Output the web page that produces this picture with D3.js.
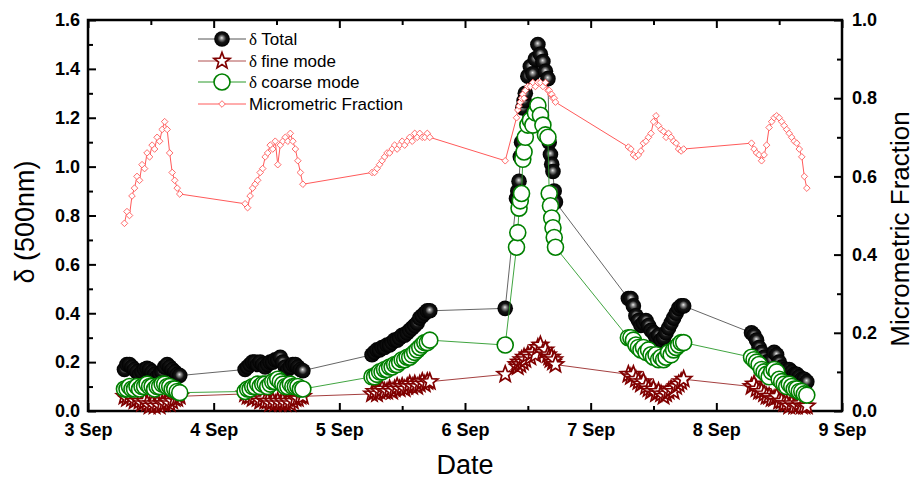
<!DOCTYPE html>
<html>
<head>
<meta charset="utf-8">
<script src="https://cdn.jsdelivr.net/npm/d3@7"></script>
<style>
  body { margin: 0; background: #fff; }
  svg { display: block; }
</style>
</head>
<body>
<svg width="917" height="481"></svg>
<script>
// time of each sample, as decimal day of September
const times = [
  3.29,3.31,3.33,3.35,3.37,3.39,3.41,3.43,3.45,3.47,3.49,3.51,3.53,3.55,3.57,3.59,3.61,3.63,3.65,3.67,3.69,3.71,3.73,
  4.25,4.27,4.29,4.31,4.33,4.35,4.37,4.39,4.41,4.43,4.45,4.47,4.49,4.51,4.53,4.55,4.57,4.59,4.61,4.63,4.65,4.67,4.69,4.71,
  5.26,5.28,5.30,5.32,5.34,5.36,5.38,5.40,5.42,5.44,5.46,5.48,5.50,5.52,5.54,5.56,5.58,5.60,5.62,5.64,5.66,5.68,5.70,5.72,
  6.32,6.41,6.42,6.43,6.44,6.45,6.46,6.47,6.48,6.50,6.52,6.54,6.56,6.58,6.60,6.62,6.64,6.66,6.67,6.68,6.69,6.70,6.71,6.72,
  7.30,7.32,7.34,7.36,7.38,7.40,7.42,7.44,7.46,7.48,7.50,7.52,7.54,7.56,7.58,7.60,7.62,7.64,7.66,7.68,7.70,7.72,7.74,
  8.28,8.30,8.32,8.34,8.36,8.38,8.40,8.42,8.44,8.46,8.48,8.50,8.52,8.54,8.56,8.58,8.60,8.62,8.64,8.66,8.68,8.70,8.72
];

const deltaTotal = [
  0.17,0.19,0.19,0.18,0.17,0.16,0.15,0.16,0.17,0.175,0.17,0.16,0.15,0.14,0.15,0.16,0.18,0.19,0.18,0.17,0.16,0.15,0.145,
  0.17,0.18,0.19,0.20,0.20,0.19,0.20,0.19,0.18,0.19,0.20,0.20,0.21,0.21,0.22,0.20,0.18,0.17,0.18,0.19,0.19,0.18,0.17,0.165,
  0.23,0.24,0.25,0.25,0.26,0.26,0.27,0.27,0.28,0.29,0.29,0.30,0.31,0.31,0.32,0.33,0.34,0.35,0.36,0.38,0.39,0.40,0.41,0.41,
  0.42,0.87,0.90,0.94,1.04,1.10,1.24,1.27,1.30,1.37,1.41,1.38,1.44,1.50,1.46,1.43,1.39,1.36,1.10,1.05,1.01,0.98,0.90,0.855,
  0.46,0.46,0.43,0.39,0.37,0.35,0.36,0.37,0.35,0.33,0.32,0.30,0.31,0.29,0.30,0.32,0.34,0.36,0.38,0.40,0.42,0.43,0.43,
  0.32,0.31,0.29,0.26,0.24,0.22,0.20,0.19,0.21,0.24,0.23,0.20,0.18,0.17,0.16,0.17,0.16,0.15,0.15,0.14,0.13,0.13,0.12
];

const deltaFine = [
  0.06,0.05,0.06,0.05,0.04,0.05,0.04,0.03,0.04,0.03,0.02,0.03,0.02,0.03,0.02,0.03,0.03,0.04,0.03,0.04,0.05,0.05,0.06,
  0.07,0.06,0.06,0.05,0.06,0.05,0.04,0.05,0.04,0.04,0.03,0.04,0.03,0.04,0.03,0.04,0.03,0.04,0.03,0.04,0.05,0.05,0.06,0.06,
  0.07,0.08,0.07,0.08,0.09,0.08,0.08,0.09,0.08,0.09,0.10,0.09,0.10,0.09,0.10,0.11,0.10,0.11,0.10,0.11,0.12,0.11,0.12,0.12,
  0.15,0.19,0.18,0.20,0.19,0.21,0.20,0.22,0.21,0.23,0.22,0.24,0.23,0.26,0.27,0.24,0.25,0.23,0.22,0.21,0.22,0.20,0.21,0.19,
  0.15,0.14,0.15,0.13,0.12,0.11,0.12,0.10,0.09,0.08,0.09,0.07,0.08,0.07,0.06,0.07,0.08,0.09,0.08,0.10,0.11,0.12,0.13,
  0.10,0.11,0.09,0.08,0.08,0.07,0.06,0.06,0.05,0.05,0.06,0.04,0.04,0.03,0.03,0.02,0.03,0.02,0.02,0.03,0.02,0.02,0.02
];

const deltaCoarse = [
  0.09,0.09,0.10,0.09,0.09,0.10,0.09,0.10,0.10,0.11,0.10,0.10,0.09,0.10,0.10,0.11,0.11,0.10,0.10,0.09,0.09,0.08,0.075,
  0.08,0.09,0.09,0.10,0.10,0.11,0.10,0.11,0.11,0.10,0.11,0.12,0.12,0.13,0.12,0.11,0.10,0.10,0.11,0.10,0.10,0.10,0.09,0.09,
  0.14,0.14,0.15,0.16,0.16,0.17,0.17,0.18,0.18,0.19,0.19,0.20,0.21,0.21,0.22,0.22,0.23,0.24,0.25,0.26,0.27,0.28,0.28,0.29,
  0.27,0.67,0.73,0.83,0.86,0.89,1.03,1.06,1.12,1.17,1.19,1.17,1.22,1.25,1.21,1.17,1.13,1.12,0.89,0.84,0.79,0.75,0.71,0.67,
  0.30,0.30,0.29,0.27,0.26,0.25,0.26,0.24,0.25,0.23,0.22,0.23,0.21,0.22,0.21,0.22,0.24,0.23,0.25,0.26,0.27,0.28,0.28,
  0.22,0.21,0.20,0.19,0.17,0.16,0.15,0.14,0.16,0.17,0.16,0.13,0.12,0.11,0.10,0.11,0.10,0.09,0.09,0.08,0.08,0.07,0.065
];

const microFraction = [
  0.48,0.51,0.50,0.55,0.57,0.60,0.59,0.63,0.62,0.66,0.65,0.68,0.67,0.70,0.69,0.72,0.74,0.72,0.66,0.61,0.59,0.57,0.555,
  0.53,0.52,0.55,0.57,0.58,0.59,0.61,0.62,0.65,0.66,0.68,0.67,0.69,0.63,0.68,0.69,0.70,0.69,0.71,0.69,0.67,0.64,0.61,0.58,
  0.61,0.61,0.62,0.63,0.64,0.65,0.66,0.66,0.67,0.68,0.67,0.68,0.69,0.68,0.69,0.70,0.69,0.71,0.70,0.71,0.70,0.70,0.71,0.70,
  0.64,0.75,0.77,0.78,0.79,0.80,0.81,0.80,0.82,0.83,0.83,0.84,0.83,0.84,0.84,0.83,0.84,0.82,0.82,0.81,0.81,0.80,0.80,0.79,
  0.675,0.67,0.655,0.65,0.655,0.665,0.685,0.69,0.70,0.71,0.74,0.755,0.73,0.72,0.715,0.70,0.71,0.70,0.69,0.685,0.67,0.665,0.67,
  0.685,0.67,0.66,0.655,0.64,0.655,0.68,0.725,0.74,0.75,0.755,0.75,0.74,0.73,0.72,0.71,0.70,0.69,0.685,0.67,0.65,0.60,0.57
];

// ticks and labels
const dayTicks = [3, 4, 5, 6, 7, 8, 9];
const dayLabels = ["3 Sep", "4 Sep", "5 Sep", "6 Sep", "7 Sep", "8 Sep", "9 Sep"];
const halfDayTicks = [3.5, 4.5, 5.5, 6.5, 7.5, 8.5];
const leftTicks = [0, 0.2, 0.4, 0.6, 0.8, 1.0, 1.2, 1.4, 1.6];
const leftMinor = [0.1, 0.3, 0.5, 0.7, 0.9, 1.1, 1.3, 1.5];
const rightTicks = [0, 0.2, 0.4, 0.6, 0.8, 1.0];
const rightMinor = [0.1, 0.3, 0.5, 0.7, 0.9];
const legendLabels = ["Total", "fine mode", "coarse mode", "Micrometric Fraction"];

const svg = d3.select("svg");
const plotLeft = 88, plotRight = 842, plotTop = 20, plotBottom = 411;

svg.append("rect").attr("width", 917).attr("height", 481).attr("fill", "#fff");

const x = d3.scaleLinear().domain([3, 9]).range([plotLeft, plotRight]);
const y = d3.scaleLinear().domain([0, 1.6]).range([plotBottom, plotTop]);
const y2 = d3.scaleLinear().domain([0, 1.0]).range([plotBottom, plotTop]);

// sphere gradient for the total symbols
const defs = svg.append("defs");
const grad = defs.append("radialGradient").attr("id", "ball")
  .attr("cx", "50%").attr("cy", "50%").attr("r", "50%")
  .attr("fx", "48%").attr("fy", "42%");
grad.append("stop").attr("offset", "0%").attr("stop-color", "#e8e8e8");
grad.append("stop").attr("offset", "22%").attr("stop-color", "#8a8a8a");
grad.append("stop").attr("offset", "55%").attr("stop-color", "#151515");
grad.append("stop").attr("offset", "100%").attr("stop-color", "#000");

function starPath(R, r) {
  const pts = [];
  for (let i = 0; i < 10; i++) {
    const a = -Math.PI / 2 + i * Math.PI / 5;
    const rad = i % 2 === 0 ? R : r;
    pts.push([Math.cos(a) * rad, Math.sin(a) * rad]);
  }
  return "M" + pts.map(p => p[0].toFixed(2) + "," + p[1].toFixed(2)).join("L") + "Z";
}
const star = starPath(8.5, 3.6);
const diamond = "M0,-3.3L3.3,0L0,3.3L-3.3,0Z";

// axes (ticks inward)
function styleAxis(g) {
  g.select(".domain").remove();
  g.selectAll("line").attr("stroke", "#000").attr("stroke-width", 2);
  g.selectAll("text")
    .attr("fill", "#000")
    .style("font-family", "'Liberation Sans', Arial, sans-serif")
    .style("font-weight", "bold")
    .style("font-size", "18px");
}

svg.append("g").attr("transform", `translate(0,${plotBottom})`)
  .call(d3.axisBottom(x).tickValues(dayTicks).tickFormat((d, i) => dayLabels[i]).tickSize(-8).tickPadding(12))
  .call(styleAxis);
svg.append("g").attr("transform", `translate(0,${plotBottom})`)
  .call(d3.axisBottom(x).tickValues(halfDayTicks).tickFormat("").tickSize(-5))
  .call(styleAxis);
svg.append("g").attr("transform", `translate(0,${plotTop})`)
  .call(d3.axisTop(x).tickValues(dayTicks).tickFormat("").tickSize(-8))
  .call(styleAxis);
svg.append("g").attr("transform", `translate(0,${plotTop})`)
  .call(d3.axisTop(x).tickValues(halfDayTicks).tickFormat("").tickSize(-5))
  .call(styleAxis);

svg.append("g").attr("transform", `translate(${plotLeft},0)`)
  .call(d3.axisLeft(y).tickValues(leftTicks).tickFormat(d3.format(".1f")).tickSize(-8).tickPadding(8))
  .call(styleAxis);
svg.append("g").attr("transform", `translate(${plotLeft},0)`)
  .call(d3.axisLeft(y).tickValues(leftMinor).tickFormat("").tickSize(-5))
  .call(styleAxis);

svg.append("g").attr("transform", `translate(${plotRight},0)`)
  .call(d3.axisRight(y2).tickValues(rightTicks).tickFormat(d3.format(".1f")).tickSize(-8).tickPadding(10))
  .call(styleAxis);
svg.append("g").attr("transform", `translate(${plotRight},0)`)
  .call(d3.axisRight(y2).tickValues(rightMinor).tickFormat("").tickSize(-5))
  .call(styleAxis);

svg.append("rect")
  .attr("x", plotLeft).attr("y", plotTop)
  .attr("width", plotRight - plotLeft).attr("height", plotBottom - plotTop)
  .attr("fill", "none").attr("stroke", "#000").attr("stroke-width", 2.5);

// axis titles
const titleFont = "'Liberation Sans', Arial, sans-serif";
svg.append("text")
  .attr("transform", "translate(34,222) rotate(-90)")
  .attr("text-anchor", "middle")
  .style("font-family", titleFont).style("font-size", "27px")
  .text("δ (500nm)");
svg.append("text")
  .attr("x", (plotLeft + plotRight) / 2).attr("y", 474)
  .attr("text-anchor", "middle")
  .style("font-family", titleFont).style("font-size", "27px")
  .text("Date");
svg.append("text")
  .attr("transform", "translate(909,229) rotate(-90)")
  .attr("text-anchor", "middle")
  .style("font-family", titleFont).style("font-size", "26px")
  .text("Micrometric Fraction");

// series
const rows = times.map((t, i) => ({
  t, total: deltaTotal[i], fine: deltaFine[i], coarse: deltaCoarse[i], mf: microFraction[i]
}));

function drawSeries(key, scale, lineColor, lineWidth, drawSymbol) {
  const line = d3.line().x(d => x(d.t)).y(d => scale(d[key]));
  svg.append("path").datum(rows)
    .attr("d", line).attr("fill", "none")
    .attr("stroke", lineColor).attr("stroke-width", lineWidth);
  const g = svg.append("g");
  rows.forEach(d => drawSymbol(g.append("g").attr("transform", `translate(${x(d.t)},${scale(d[key])})`)));
}

const symTotal = g => g.append("circle").attr("r", 7.8).attr("fill", "url(#ball)");
const symFine = g => g.append("path").attr("d", star).attr("fill", "#fff")
  .attr("stroke", "#800000").attr("stroke-width", 1.7);
const symCoarse = g => g.append("circle").attr("r", 8).attr("fill", "#fff")
  .attr("stroke", "#008000").attr("stroke-width", 1.6);
const symMF = g => g.append("path").attr("d", diamond).attr("fill", "#fff")
  .attr("stroke", "#ff5a5a").attr("stroke-width", 0.9);

drawSeries("total", y, "#555", 0.9, symTotal);
drawSeries("fine", y, "#9a2a2a", 0.9, symFine);
drawSeries("coarse", y, "#2a9a2a", 0.9, symCoarse);
drawSeries("mf", y2, "#ff5a5a", 1, symMF);

// legend
const legendItems = [
  { label: legendLabels[0], delta: true, color: "#555", sym: symTotal },
  { label: legendLabels[1], delta: true, color: "#b05050", sym: symFine },
  { label: legendLabels[2], delta: true, color: "#2a9a2a", sym: symCoarse },
  { label: legendLabels[3], delta: false, color: "#ff5a5a", sym: symMF }
];
const legendY = [39, 61, 82, 104];
legendItems.forEach((item, i) => {
  const g = svg.append("g").attr("transform", `translate(0,${legendY[i]})`);
  g.append("line").attr("x1", 198).attr("x2", 246).attr("y1", 0).attr("y2", 0)
    .attr("stroke", item.color).attr("stroke-width", 1);
  item.sym(g.append("g").attr("transform", "translate(222,0)"));
  const t = g.append("text").attr("x", 249).attr("dy", "0.36em")
    .style("font-family", titleFont).style("font-size", "17px");
  if (item.delta) {
    t.append("tspan").style("font-family", "'Liberation Serif', 'DejaVu Serif', serif").text("δ ");
  }
  t.append("tspan").text(item.label);
});
</script>
</body>
</html>
